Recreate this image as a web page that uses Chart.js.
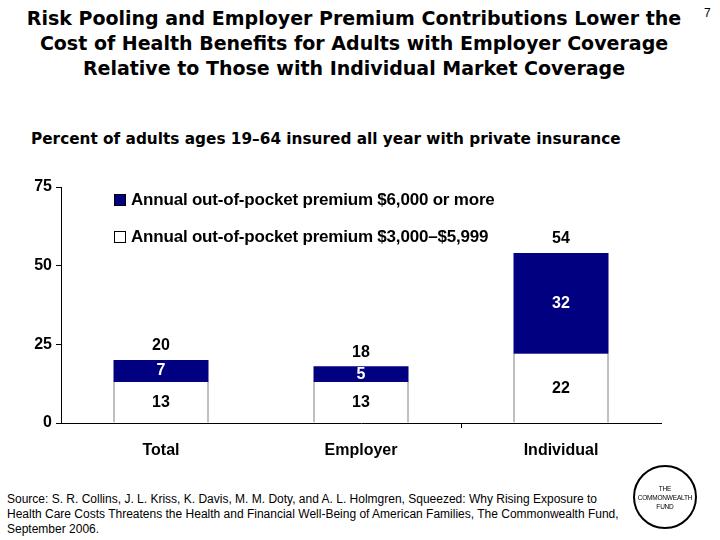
<!DOCTYPE html>
<html>
<head>
<meta charset="utf-8">
<script src="https://cdn.jsdelivr.net/npm/chart.js@4/dist/chart.umd.min.js"></script>
<style>
  html, body { margin:0; padding:0; background:#fff; }
  body { width:720px; height:540px; position:relative; overflow:hidden; font-family:"Liberation Sans", Arial, sans-serif; }
  #title { position:absolute; left:0; top:6px; width:708px; text-align:center; font-family:"DejaVu Sans", sans-serif; font-weight:bold; font-size:19px; line-height:25px; }
  #pagenum { position:absolute; left:704px; top:6px; font-size:12px; }
  #subtitle { position:absolute; left:31px; top:130px; font-family:"DejaVu Sans", sans-serif; font-weight:bold; font-size:15.3px; }
  #wrap { position:absolute; left:0; top:170px; width:700px; height:300px; }
  #legend { position:absolute; left:114px; top:190px; font-weight:bold; font-size:17px; letter-spacing:-0.2px; }
  #legend div { height:37px; display:flex; align-items:flex-start; }
  #legend span.box { display:inline-block; width:10px; height:10px; margin:4px 5px 0 0; border:1px solid #000; }
  #source { position:absolute; left:7px; top:492px; width:622px; font-size:12px; line-height:15px; }
  #logo { position:absolute; left:633px; top:465px; width:60px; height:60px; border:2px solid #000; border-radius:50%; display:flex; flex-direction:column; justify-content:center; align-items:center; font-size:6.5px; line-height:9px; letter-spacing:-0.2px; }
</style>
</head>
<body>
<div id="title">Risk Pooling and Employer Premium Contributions Lower the<br>Cost of Health Benefits for Adults with Employer Coverage<br>Relative to Those with Individual Market Coverage</div>
<div id="pagenum">7</div>
<div id="subtitle">Percent of adults ages 19–64 insured all year with private insurance</div>
<div id="wrap"><canvas id="chart"></canvas></div>
<div id="legend"></div>
<div id="source">Source: S. R. Collins, J. L. Kriss, K. Davis, M. M. Doty, and A. L. Holmgren, Squeezed: Why Rising Exposure to Health Care Costs Threatens the Health and Financial Well-Being of American Families, The Commonwealth Fund, September 2006.</div>
<div id="logo"><div>THE</div><div>COMMONWEALTH</div><div>FUND</div></div>
<script>
"use strict";

const categories = ["Total", "Employer", "Individual"];
const seriesNames = ["Annual out-of-pocket premium $3,000–$5,999", "Annual out-of-pocket premium $6,000 or more"];
const lowValues = [13, 13, 22];
const highValues = [7, 5, 32];
const totals = [20, 18, 54];
const yTicks = [0, 25, 50, 75];

const NAVY = "#000080";
const fillColors = ["#ffffff", NAVY];

// legend (high series listed first, like the original)
const legend = document.getElementById("legend");
[1, 0].forEach(i => {
  const row = document.createElement("div");
  row.innerHTML = `<span class="box" style="background:${fillColors[i]}"></span>${seriesNames[i]}`;
  legend.appendChild(row);
});

// value labels inside segments and totals above stacks
const labelPlugin = {
  id: "labels",
  afterDatasetsDraw(chart) {
    const { ctx } = chart;
    const ys = chart.scales.y;
    ctx.save();
    ctx.textAlign = "center";
    ctx.textBaseline = "middle";
    ctx.font = "bold 16px 'Liberation Sans', Arial, sans-serif";
    chart.data.datasets.forEach((ds, di) => {
      const meta = chart.getDatasetMeta(di);
      meta.data.forEach((bar, i) => {
        const v = ds.data[i];
        const base = di === 0 ? 0 : lowValues[i];
        ctx.fillStyle = di === 0 ? "#000" : "#fff";
        ctx.fillText(String(v), bar.x, ys.getPixelForValue(base + v / 2));
      });
    });
    const meta = chart.getDatasetMeta(1);
    ctx.fillStyle = "#000";
    meta.data.forEach((bar, i) => {
      ctx.fillText(String(totals[i]), bar.x, ys.getPixelForValue(totals[i]) - 14);
    });
    ctx.restore();
  }
};

new Chart(document.getElementById("chart"), {
  type: "bar",
  data: {
    labels: categories,
    datasets: [
      { label: seriesNames[0], data: lowValues, backgroundColor: fillColors[0], borderColor: "#000", borderWidth: { top: 0, left: 1, right: 1, bottom: 0 }, borderSkipped: false },
      { label: seriesNames[1], data: highValues, backgroundColor: fillColors[1], borderColor: NAVY, borderWidth: 0 },
    ],
  },
  options: {
    responsive: true,
    maintainAspectRatio: false,
    animation: false,
    devicePixelRatio: 1,
    layout: { padding: { top: 17, right: 39, left: 0, bottom: 0 } },
    datasets: { bar: { categoryPercentage: 1, barPercentage: 0.475 } },
    plugins: { legend: { display: false }, tooltip: { enabled: false } },
    scales: {
      x: {
        stacked: true,
        grid: {
          offset: true,
          drawOnChartArea: false,
          tickLength: 5,
          color: c => (c.index === 2 ? "#000" : "rgba(0,0,0,0)"),
        },
        border: { color: "#000", width: 1 },
        ticks: { color: "#000", font: { family: "'Liberation Sans', Arial, sans-serif", size: 16, weight: "bold" }, padding: 13 },
        afterFit: s => { s.height = 47; },
      },
      y: {
        stacked: true,
        min: 0,
        max: 75,
        afterBuildTicks: s => { s.ticks = yTicks.map(v => ({ value: v })); },
        grid: { drawOnChartArea: false, tickLength: 5, color: "#000" },
        border: { color: "#000", width: 1 },
        ticks: { color: "#000", font: { family: "'Liberation Sans', Arial, sans-serif", size: 16, weight: "bold" }, padding: 4 },
        afterFit: s => { s.width = 61; },
      },
    },
  },
  plugins: [labelPlugin],
});
</script>
</body>
</html>
